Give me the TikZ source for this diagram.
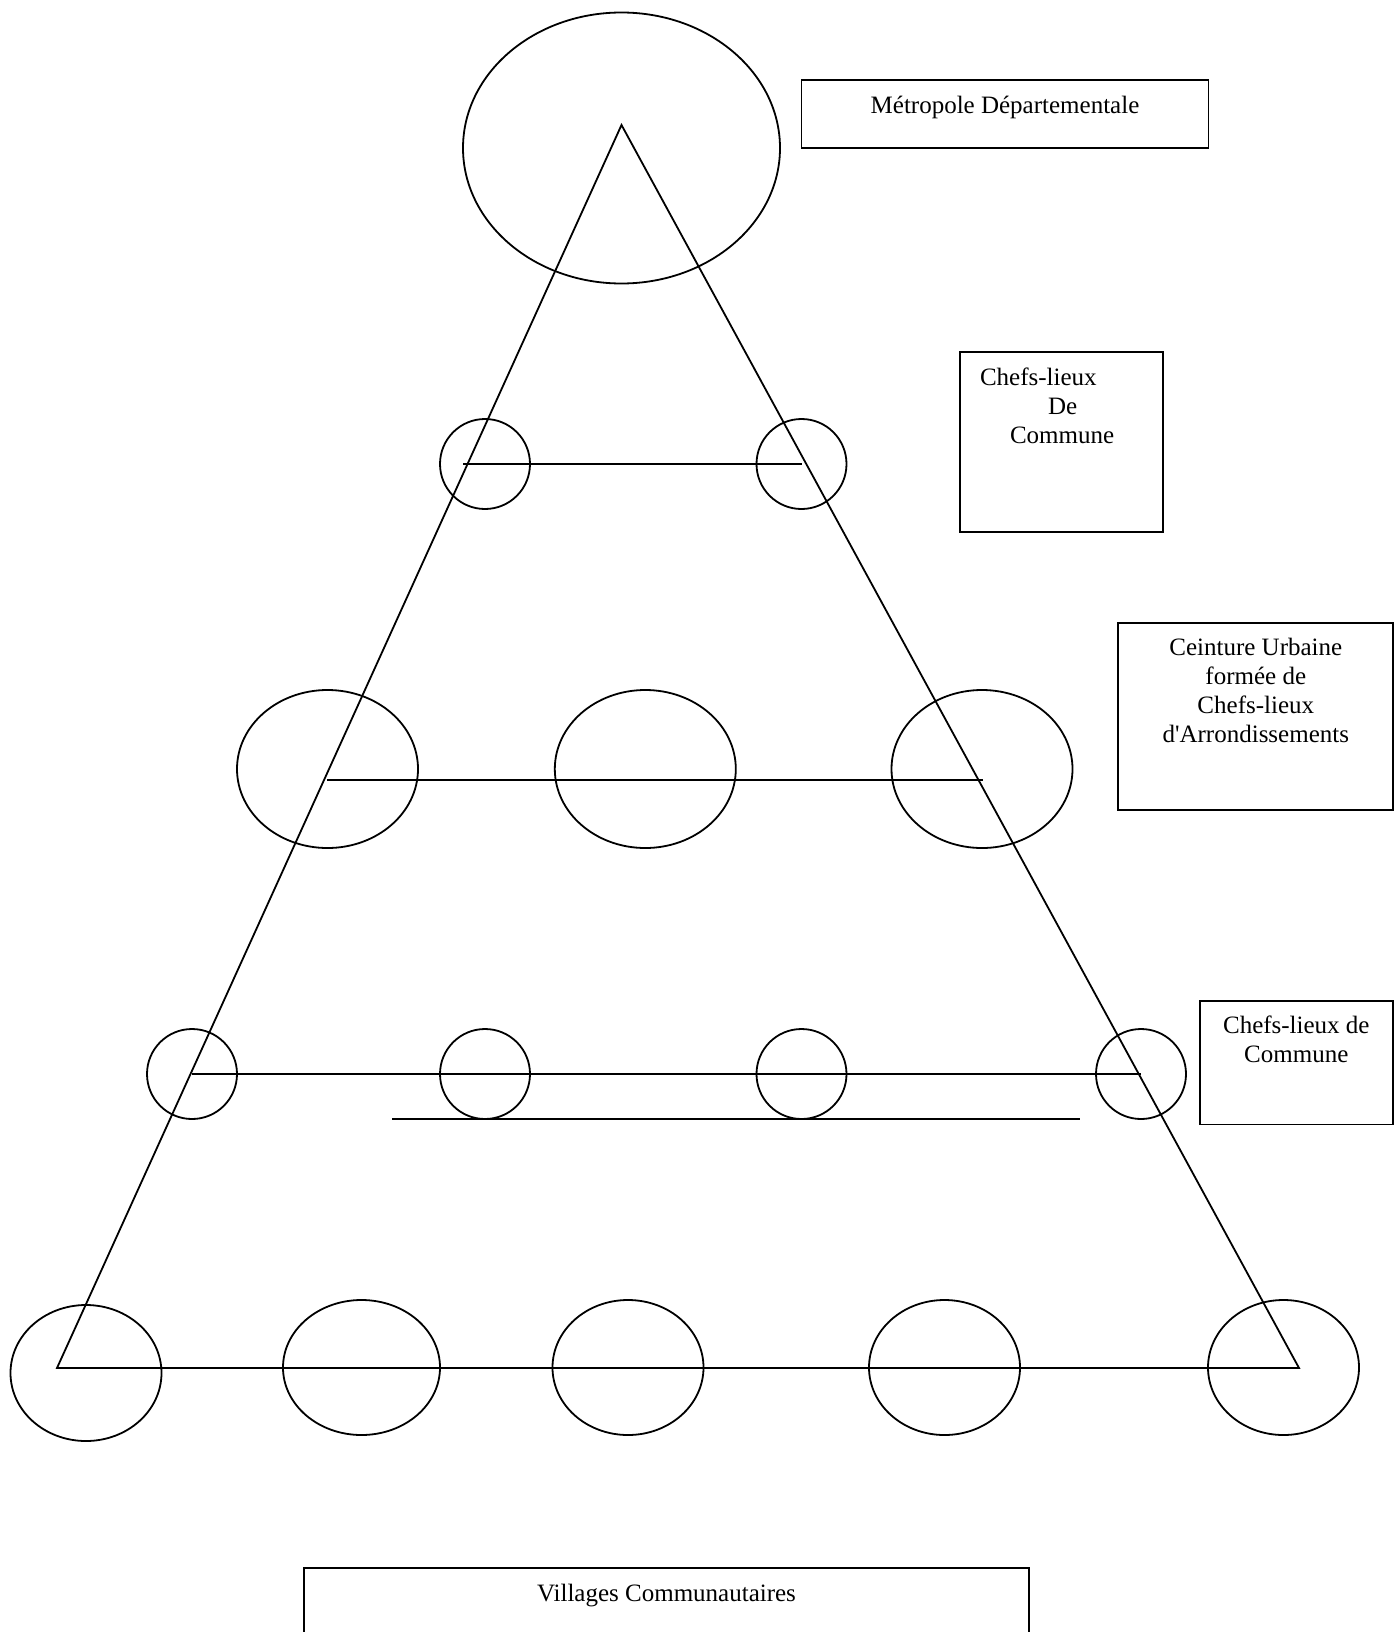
\documentclass[tikz,border=0pt]{standalone}
\usepackage{fontspec}
\setmainfont{Liberation Serif}[Ligatures=TeXOff]
\usetikzlibrary{shapes.geometric,positioning}
\tikzset{
ville/.style={draw, ellipse, inner sep=0pt},
bourg/.style={draw, circle, inner sep=0pt, minimum size=45pt},
cadre/.style={draw, rectangle, inner sep=0pt},
legende/.style={inner sep=0pt, font=\fontsize{12.5}{14.5}\selectfont},
}

\begin{document}
\begin{tikzpicture}[x=0.5pt, y=-0.5pt, line width=0.9pt]
    \useasboundingbox (0,0) rectangle (1398,1632);

    % pyramide
    \coordinate (sommet) at (621.5,125);
    \coordinate (bg) at (57,1368);
    \coordinate (bd) at (1299,1368);
    \draw (sommet) -- (bg) -- (bd) -- cycle;

    % metropole
    \node[ville, minimum width=158.5pt, minimum height=135.5pt] (metro) at (621.5,148) {};

    % chefs-lieux de commune (haut)
    \node[bourg] (c11) at (485,464) {};
    \node[bourg] (c12) at (801.5,464) {};
    \coordinate (l1) at (463,464);
    \draw (l1) -- (c12.center);

    % ceinture urbaine
    \node[ville, minimum width=90.5pt, minimum height=79pt] (e21) at (327.5,769) {};
    \node[ville, minimum width=90.5pt, minimum height=79pt, right=67.5pt of e21] (e22) {};
    \node[ville, minimum width=90.5pt, minimum height=79pt] (e23) at (982,769) {};
    \coordinate (l2a) at (327,780);
    \coordinate (l2b) at (982.5,780);
    \draw (l2a) -- (l2b);

    % chefs-lieux de commune (bas)
    \node[bourg] (c31) at (192,1074) {};
    \node[bourg] (c32) at (485,1074) {};
    \node[bourg] (c33) at (801.5,1074) {};
    \node[bourg] (c34) at (1141,1074) {};
    \draw (c31.center) -- (c34.center);
    \coordinate (l3a) at (392,1119);
    \coordinate (l3b) at (1080,1119);
    \draw (l3a) -- (l3b);

    % villages
    \node[ville, minimum width=75.5pt, minimum height=68pt] (v1) at (86,1373) {};
    \node[ville, minimum width=78.5pt, minimum height=67.5pt] (v2) at (361.5,1367.5) {};
    \node[ville, minimum width=75.5pt, minimum height=67.5pt] (v3) at (628,1367.5) {};
    \node[ville, minimum width=75.5pt, minimum height=67.5pt] (v4) at (944.5,1367.5) {};
    \node[ville, minimum width=75.5pt, minimum height=67.5pt] (v5) at (1283.5,1367.5) {};

    % cadres
    \node[cadre, minimum width=203.5pt, minimum height=34pt] (b1) at (1005,114) {};
    \node[legende, anchor=base] (t1) at (1005,113.5) {Métropole Départementale};

    \node[cadre, minimum width=101.5pt, minimum height=90pt] (b2) at (1061.5,442) {};
    \node[legende, anchor=north west, align=left, below right=8pt and 10pt of b2.north west] (t2)
        {Chefs-lieux\\\hspace*{34pt}De\\\hspace*{15pt}Commune};

    \node[cadre, minimum width=137.5pt, minimum height=93.7pt] (b3) at (1255.8,716.3) {};
    \node[legende, align=center, below=8pt of b3.north] (t3)
        {Ceinture Urbaine\\formée de\\Chefs-lieux\\d'Arrondissements};

    \node[cadre, minimum width=96.3pt, minimum height=61.7pt] (b4) at (1296.3,1062.7) {};
    \node[legende, align=center, below=7.5pt of b4.north] (t4) {Chefs-lieux de\\Commune};

    \node[cadre, minimum width=362.3pt, minimum height=66pt] (b5) at (666.5,1634) {};
    \node[legende, anchor=base] (t5) at (666.5,1601) {Villages Communautaires};

\end{tikzpicture}
\end{document}
